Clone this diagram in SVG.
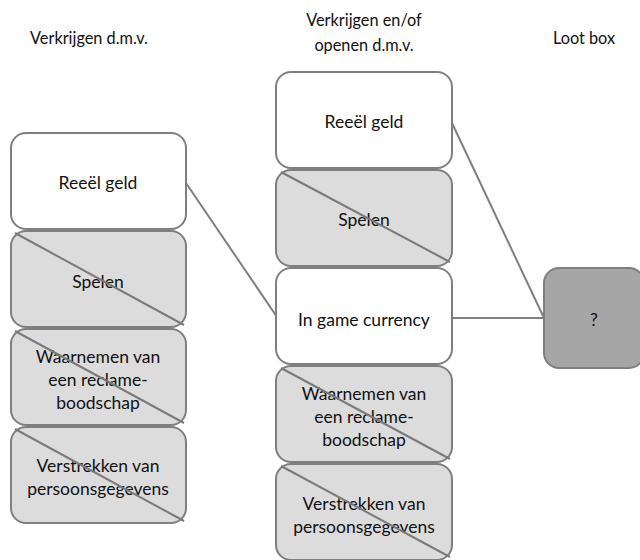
<svg xmlns="http://www.w3.org/2000/svg" width="640" height="560" viewBox="0 0 640 560">
  <style>
    .box { stroke: #7f7f7f; stroke-width: 2; }
    .on { fill: #ffffff; }
    .off { fill: #dcdcdc; }
    .goal { fill: #a6a6a6; }
    .strike { stroke: #7a7a7a; stroke-width: 2; }
    .link { stroke: #7f7f7f; stroke-width: 2; fill: none; }
    text { font-family: Lato, "Open Sans", "Liberation Sans", sans-serif; fill: #111111; text-anchor: middle; }
    .hd { font-size: 16.3px; }
    .lb { font-size: 17.5px; }
  </style>
  <rect width="640" height="560" fill="#ffffff"/>

  <!-- column headings -->
  <g id="headings">
    <text class="hd" x="89" y="44">Verkrijgen d.m.v.</text>
    <text class="hd" x="364" y="26">Verkrijgen en/of</text>
    <text class="hd" x="364" y="51">openen d.m.v.</text>
    <text class="hd" x="584" y="44">Loot box</text>
  </g>

  <!-- connectors -->
  <g id="connectors">
    <line class="link" x1="186" y1="183" x2="277" y2="317"/>
    <line class="link" x1="452" y1="123" x2="544" y2="318"/>
    <line class="link" x1="452" y1="318" x2="544" y2="318"/>
  </g>

  <!-- left column -->
  <g id="l-geld">
    <rect class="box on" x="11" y="133" width="175" height="96" rx="15"/>
    <text class="lb" x="98" y="189">Reeël geld</text>
  </g>
  <g id="l-spelen">
    <rect class="box off" x="11" y="231" width="175" height="96" rx="15"/>
    <text class="lb" x="98" y="288">Spelen</text>
    <line class="strike" x1="15" y1="233" x2="184" y2="325"/>
  </g>
  <g id="l-reclame">
    <rect class="box off" x="11" y="329" width="175" height="96" rx="15"/>
    <text class="lb" x="98" y="363">Waarnemen van</text>
    <text class="lb" x="98" y="386">een reclame-</text>
    <text class="lb" x="98" y="409">boodschap</text>
    <line class="strike" x1="15" y1="331" x2="184" y2="423"/>
  </g>
  <g id="l-gegevens">
    <rect class="box off" x="11" y="427" width="175" height="96" rx="15"/>
    <text class="lb" x="98" y="472">Verstrekken van</text>
    <text class="lb" x="98" y="495">persoonsgegevens</text>
    <line class="strike" x1="15" y1="429" x2="184" y2="521"/>
  </g>

  <!-- middle column -->
  <g id="m-geld">
    <rect class="box on" x="276" y="72" width="176" height="96" rx="15"/>
    <text class="lb" x="364" y="128">Reeël geld</text>
  </g>
  <g id="m-spelen">
    <rect class="box off" x="276" y="170" width="176" height="96" rx="15"/>
    <text class="lb" x="364" y="226">Spelen</text>
    <line class="strike" x1="281" y1="172" x2="450" y2="262"/>
  </g>
  <g id="m-currency">
    <rect class="box on" x="276" y="268" width="176" height="96" rx="15"/>
    <text class="lb" x="364" y="326">In game currency</text>
  </g>
  <g id="m-reclame">
    <rect class="box off" x="276" y="366" width="176" height="96" rx="15"/>
    <text class="lb" x="364" y="400">Waarnemen van</text>
    <text class="lb" x="364" y="423">een reclame-</text>
    <text class="lb" x="364" y="446">boodschap</text>
    <line class="strike" x1="281" y1="368" x2="450" y2="459"/>
  </g>
  <g id="m-gegevens">
    <rect class="box off" x="276" y="464" width="176" height="96" rx="15"/>
    <text class="lb" x="364" y="510">Verstrekken van</text>
    <text class="lb" x="364" y="533">persoonsgegevens</text>
    <line class="strike" x1="281" y1="466" x2="450" y2="557"/>
  </g>

  <!-- target -->
  <g id="lootbox">
    <rect class="box goal" x="544" y="268" width="100" height="100" rx="15"/>
    <text class="lb" x="594" y="326">?</text>
  </g>
</svg>
